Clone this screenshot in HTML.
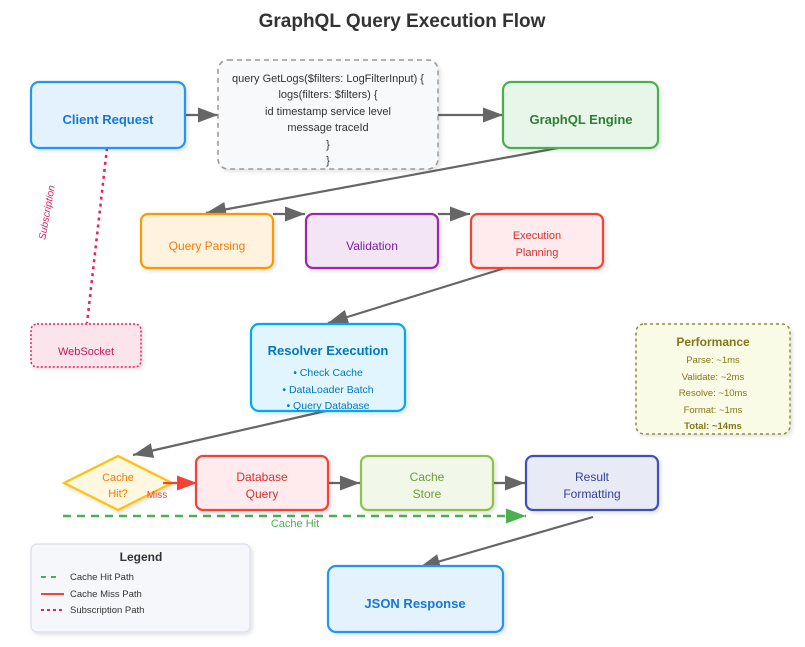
<!DOCTYPE html>
<html><head><meta charset="utf-8"><style>
html,body{margin:0;padding:0;background:#fff;}
svg{display:block;font-family:"Liberation Sans","DejaVu Sans",sans-serif;}
</style></head><body>
<svg width="805" height="647" viewBox="0 0 805 647" xmlns="http://www.w3.org/2000/svg">
<defs>
<marker id="ag" markerWidth="21" markerHeight="16" refX="20" refY="7.5" orient="auto" markerUnits="userSpaceOnUse"><path d="M0,0 L20,7.5 L0,15z" fill="#666"/></marker>
<marker id="ar" markerWidth="21" markerHeight="16" refX="20" refY="7.5" orient="auto" markerUnits="userSpaceOnUse"><path d="M0,0 L20,7.5 L0,15z" fill="#f44336"/></marker>
<marker id="agr" markerWidth="21" markerHeight="16" refX="20" refY="7.5" orient="auto" markerUnits="userSpaceOnUse"><path d="M0,0 L20,7.5 L0,15z" fill="#4caf50"/></marker>
<filter id="sh" x="-10%" y="-10%" width="130%" height="140%"><feDropShadow dx="2" dy="2" stdDeviation="2" flood-color="#000" flood-opacity="0.12"/></filter>
</defs>
<text x="402" y="27" text-anchor="middle" font-size="19" font-weight="bold" fill="#333">GraphQL Query Execution Flow</text>

<g stroke="#666" stroke-width="2.2" fill="none">
<line x1="185" y1="115" x2="218" y2="115" marker-end="url(#ag)"/>
<line x1="438" y1="115" x2="503" y2="115" marker-end="url(#ag)"/>
<line x1="558" y1="148" x2="206" y2="213" marker-end="url(#ag)"/>
<line x1="273" y1="214" x2="305" y2="214" marker-end="url(#ag)"/>
<line x1="438" y1="214" x2="470" y2="214" marker-end="url(#ag)"/>
<line x1="505" y1="268" x2="328" y2="323" marker-end="url(#ag)"/>
<line x1="330" y1="410" x2="133" y2="455" marker-end="url(#ag)"/>
<line x1="328" y1="483" x2="360" y2="483" marker-end="url(#ag)"/>
<line x1="493" y1="483" x2="525" y2="483" marker-end="url(#ag)"/>
<line x1="593" y1="517" x2="420" y2="567" marker-end="url(#ag)"/>
</g>
<line x1="63" y1="516" x2="526" y2="516" stroke="#4caf50" stroke-width="2.5" stroke-dasharray="8,6" marker-end="url(#agr)"/>
<line x1="107" y1="148" x2="87" y2="323" stroke="#e91e63" stroke-width="2.5" stroke-dasharray="3,4"/>
<text x="50" y="213" font-size="10" font-style="italic" fill="#e91e63" transform="rotate(-80 50 213)" text-anchor="middle">Subscription</text>
<text x="295" y="527" font-size="11" fill="#4caf50" text-anchor="middle">Cache Hit</text>

<g filter="url(#sh)">
<rect x="31" y="82" width="154" height="66" rx="8" fill="#e3f2fd" stroke="#2196f3" stroke-width="2.2"/>
<rect x="218" y="60" width="220" height="109" rx="10" fill="#f8f9fa" stroke="#999" stroke-width="1.5" stroke-dasharray="5,4"/>
<rect x="503" y="82" width="155" height="66" rx="8" fill="#e8f5e9" stroke="#4caf50" stroke-width="2.2"/>
<rect x="141" y="214" width="132" height="54" rx="7" fill="#fff3e0" stroke="#ff9800" stroke-width="2.2"/>
<rect x="306" y="214" width="132" height="54" rx="7" fill="#f3e5f5" stroke="#9c27b0" stroke-width="2.2"/>
<rect x="471" y="214" width="132" height="54" rx="7" fill="#ffebee" stroke="#f44336" stroke-width="2.2"/>
<rect x="31" y="324" width="110" height="43" rx="6" fill="#fce4ec" stroke="#e91e63" stroke-width="1.5" stroke-dasharray="2,2"/>
<rect x="251" y="324" width="154" height="87" rx="8" fill="#e1f5fe" stroke="#03a9f4" stroke-width="2.2"/>
<rect x="636" y="324" width="154" height="110" rx="8" fill="#f9fbe7" stroke="#8d8d3a" stroke-width="1.5" stroke-dasharray="3,3"/>
<polygon points="64,483 118,456 172,483 118,510" fill="#fff8e1" stroke="#ffc107" stroke-width="2.2"/>
<rect x="196" y="456" width="132" height="54" rx="7" fill="#ffebee" stroke="#f44336" stroke-width="2.2"/>
<rect x="361" y="456" width="132" height="54" rx="7" fill="#f1f8e9" stroke="#8bc34a" stroke-width="2.2"/>
<rect x="526" y="456" width="132" height="54" rx="7" fill="#e8eaf6" stroke="#3f51b5" stroke-width="2.2"/>
<rect x="31" y="544" width="219" height="88" rx="6" fill="#f5f7fa" stroke="#dde" stroke-width="1.2"/>
<rect x="328" y="566" width="175" height="66" rx="8" fill="#e3f2fd" stroke="#2196f3" stroke-width="2.2"/>
</g>
<line x1="163" y1="483" x2="197" y2="483" stroke="#f44336" stroke-width="2.2" marker-end="url(#ar)"/>
<text x="157" y="498" font-size="10" fill="#f44336" text-anchor="middle">Miss</text>

<text x="108" y="124" text-anchor="middle" font-size="13" font-weight="bold" fill="#1976d2">Client Request</text>
<g font-size="11" fill="#333" text-anchor="middle">
<text x="328" y="82">query GetLogs($filters: LogFilterInput) {</text>
<text x="328" y="98">logs(filters: $filters) {</text>
<text x="328" y="115">id timestamp service level</text>
<text x="328" y="131">message traceId</text>
<text x="328" y="148">}</text>
<text x="328" y="164">}</text>
</g>
<text x="581" y="124" text-anchor="middle" font-size="13" font-weight="bold" fill="#2e7d32">GraphQL Engine</text>
<text x="207" y="250" text-anchor="middle" font-size="12" fill="#f57c00">Query Parsing</text>
<text x="372" y="250" text-anchor="middle" font-size="12" fill="#7b1fa2">Validation</text>
<text x="537" y="239" text-anchor="middle" font-size="11" fill="#d32f2f">Execution</text>
<text x="537" y="256" text-anchor="middle" font-size="11" fill="#d32f2f">Planning</text>
<text x="86" y="355" text-anchor="middle" font-size="11" fill="#c2185b">WebSocket</text>
<text x="328" y="355" text-anchor="middle" font-size="13" font-weight="bold" fill="#0277bd">Resolver Execution</text>
<g font-size="10.5" fill="#0277bd" text-anchor="middle">
<text x="328" y="376">• Check Cache</text>
<text x="328" y="393">• DataLoader Batch</text>
<text x="328" y="409">• Query Database</text>
</g>
<text x="713" y="346" text-anchor="middle" font-size="12" font-weight="bold" fill="#827717">Performance</text>
<g font-size="9.5" fill="#827717" text-anchor="middle">
<text x="713" y="363">Parse: ~1ms</text>
<text x="713" y="380">Validate: ~2ms</text>
<text x="713" y="396">Resolve: ~10ms</text>
<text x="713" y="413">Format: ~1ms</text>
<text x="713" y="429" font-weight="bold">Total: ~14ms</text>
</g>
<text x="118" y="481" text-anchor="middle" font-size="11" fill="#f57c00">Cache</text>
<text x="118" y="497" text-anchor="middle" font-size="11" fill="#f57c00">Hit?</text>
<text x="262" y="481" text-anchor="middle" font-size="12" fill="#d32f2f">Database</text>
<text x="262" y="498" text-anchor="middle" font-size="12" fill="#d32f2f">Query</text>
<text x="427" y="481" text-anchor="middle" font-size="12" fill="#689f38">Cache</text>
<text x="427" y="498" text-anchor="middle" font-size="12" fill="#689f38">Store</text>
<text x="592" y="481" text-anchor="middle" font-size="12" fill="#303f9f">Result</text>
<text x="592" y="498" text-anchor="middle" font-size="12" fill="#303f9f">Formatting</text>
<text x="415" y="608" text-anchor="middle" font-size="13" font-weight="bold" fill="#1976d2">JSON Response</text>

<text x="141" y="561" text-anchor="middle" font-size="12" font-weight="bold" fill="#333">Legend</text>
<line x1="41" y1="577" x2="60" y2="577" stroke="#4caf50" stroke-width="2" stroke-dasharray="5,5"/>
<line x1="41" y1="594" x2="64" y2="594" stroke="#f44336" stroke-width="2"/>
<line x1="41" y1="610" x2="64" y2="610" stroke="#e91e63" stroke-width="2" stroke-dasharray="3,3"/>
<g font-size="9.5" fill="#333">
<text x="70" y="580">Cache Hit Path</text>
<text x="70" y="597">Cache Miss Path</text>
<text x="70" y="613">Subscription Path</text>
</g>
</svg>
</body></html>
